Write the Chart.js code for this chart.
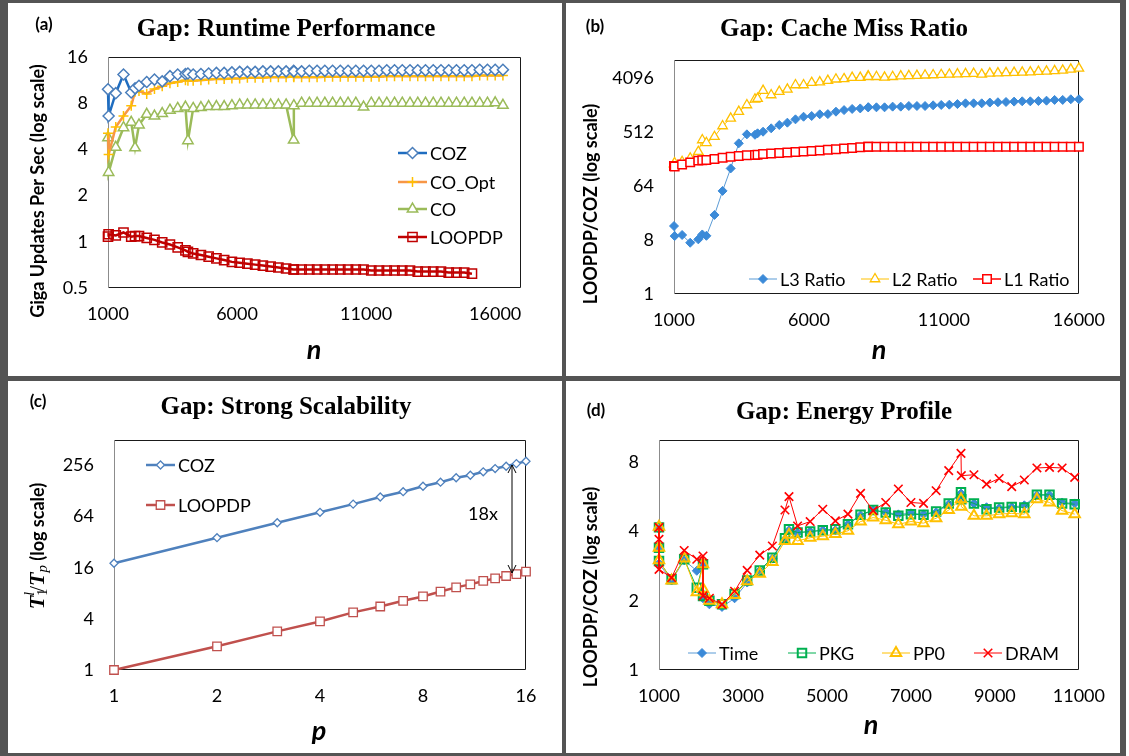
<!DOCTYPE html>
<html>
<head>
<meta charset="utf-8">
<script src="https://cdn.jsdelivr.net/npm/chart.js@4.4.1/dist/chart.umd.min.js"></script>
<style>
  html, body { margin: 0; padding: 0; background: #fff; }
  #sheet { position: relative; width: 1129px; height: 756px; }
  #bg { position: absolute; left: 0; top: 0; width: 1126px; height: 756px; background: #545454; }
  .panel { position: absolute; background: #fff; }
  .panel canvas { position: absolute; left: 0; top: 0; }
</style>
</head>
<body>
<div id="sheet">
  <div id="bg"></div>
  <div class="panel" style="left:8px;top:3px;width:554px;height:373px"><canvas id="chartA" width="554" height="373"></canvas></div>
  <div class="panel" style="left:566px;top:3px;width:554px;height:373px"><canvas id="chartB" width="554" height="373"></canvas></div>
  <div class="panel" style="left:8px;top:381px;width:554px;height:372px"><canvas id="chartC" width="554" height="372"></canvas></div>
  <div class="panel" style="left:566px;top:381px;width:554px;height:372px"><canvas id="chartD" width="554" height="372"></canvas></div>
</div>
<script>
// ---- (a) runtime performance ----
const nA = [1000, 1024, 1300, 1600, 1900, 2048, 2200, 2500, 2800, 3100, 3400, 3700, 4000, 4096,
  4300, 4600, 4900, 5200, 5500, 5800, 6100, 6400, 6700, 7000, 7300, 7600, 7900, 8192,
  8200, 8500, 8800, 9100, 9400, 9700, 10000, 10300, 10600, 10900, 11200, 11500, 11800, 12100,
  12400, 12700, 13000, 13300, 13600, 13900, 14200, 14500, 14800, 15100, 15400, 15700, 16000, 16300];
const cozA = [9.85, 6.6, 9.3, 12.3, 9.4, 10.0, 10.4, 11.0, 11.4, 11.1, 12.0, 12.3, 12.4, 12.5,
  12.3, 12.4, 12.5, 12.6, 12.6, 12.7, 12.8, 12.8, 12.8, 12.9, 12.9, 12.9, 12.9, 13.0,
  12.9, 12.9, 13.0, 13.0, 13.0, 13.0, 13.0, 13.0, 13.0, 13.0, 13.0, 13.0, 13.1, 13.1,
  13.1, 13.1, 13.1, 13.1, 13.1, 13.1, 13.1, 13.1, 13.1, 13.1, 13.2, 13.2, 13.2, 13.2];
const coOptA = [5.1, 3.7, 5.6, 6.6, 7.7, 9.5, 9.6, 9.2, 9.9, 10.3, 10.8, 11.0, 11.3, 11.2,
  11.2, 11.3, 11.4, 11.5, 11.5, 11.6, 11.6, 11.7, 11.7, 11.7, 11.8, 11.8, 11.8, 12.0,
  11.8, 11.8, 11.8, 11.8, 11.9, 11.9, 11.9, 11.9, 11.9, 11.9, 11.9, 11.9, 12.0, 12.0,
  12.0, 12.0, 12.0, 12.0, 12.0, 12.0, 12.0, 12.0, 12.0, 12.0, 12.1, 12.1, 12.1, 12.1];
const coA = [4.77, 2.83, 4.13, 5.54, 6.0, 4.1, 5.77, 6.77, 6.6, 6.85, 7.2, 7.4, 7.55, 4.56,
  7.4, 7.5, 7.6, 7.6, 7.6, 7.7, 7.8, 7.8, 7.8, 7.8, 7.8, 7.8, 7.8, 4.6,
  7.7, 8.0, 8.0, 8.0, 8.0, 8.0, 8.0, 8.0, 8.0, 7.55, 8.0, 8.0, 8.0, 8.0,
  8.0, 8.0, 8.0, 8.0, 8.0, 8.0, 8.0, 8.0, 8.0, 8.0, 8.0, 8.0, 8.05, 7.75];
const loopA = [1.08, 1.12, 1.10, 1.15, 1.08, 1.09, 1.09, 1.06, 1.03, 0.99, 0.96, 0.92, 0.88, 0.86,
  0.84, 0.82, 0.80, 0.78, 0.76, 0.74, 0.73, 0.72, 0.71, 0.70, 0.69, 0.68, 0.67, 0.66,
  0.66, 0.66, 0.66, 0.66, 0.66, 0.66, 0.66, 0.66, 0.66, 0.66, 0.65, 0.65, 0.65, 0.65,
  0.65, 0.65, 0.64, 0.64, 0.64, 0.64, 0.63, 0.63, 0.63, 0.62];
const ticksAX = [1000, 6000, 11000, 16000];
const ticksAY = [0.5, 1, 2, 4, 8, 16];

// ---- (b) cache miss ratio ----
const nB = [1000, 1024, 1300, 1600, 1900, 2048, 2200, 2500, 2800, 3100, 3400, 3700, 4000, 4096,
  4300, 4600, 4900, 5200, 5500, 5800, 6100, 6400, 6700, 7000, 7300, 7600, 7900, 8192,
  8200, 8500, 8800, 9100, 9400, 9700, 10000, 10300, 10600, 10900, 11200, 11500, 11800, 12100,
  12400, 12700, 13000, 13300, 13600, 13900, 14200, 14500, 14800, 15100, 15400, 15700, 16000];
const l3B = [13.7, 9.3, 9.7, 7.2, 8.2, 9.9, 9.4, 21, 53, 126, 331, 468, 460, 487,
  518, 590, 670, 733, 834, 922, 948, 1012, 1020, 1120, 1190, 1243, 1270, 1325,
  1325, 1325, 1325, 1360, 1360, 1393, 1393, 1393, 1430, 1450, 1466, 1500, 1545, 1545,
  1545, 1590, 1610, 1627, 1650, 1670, 1670, 1690, 1710, 1760, 1760, 1805, 1805];
const l2B = [149, 155, 163, 186, 240, 376, 338, 427, 645, 867, 1120, 1448, 1805, 1850,
  2520, 2130, 2420, 2650, 3130, 3130, 3420, 3500, 3700, 3900, 3950, 4150, 4150, 4400,
  4300, 4300, 4200, 4300, 4400, 4450, 4500, 4550, 4600, 4650, 4700, 4750, 4800, 4850,
  4700, 4900, 4950, 5000, 5050, 5100, 5150, 5250, 5300, 5400, 5500, 5700, 5950];
const l1B = [138, 135, 147, 159, 170, 172, 174, 181, 190, 198, 204, 209, 211, 213,
  219, 223, 228, 232, 237, 242, 247, 252, 258, 263, 270, 276, 284, 289,
  290, 291, 291, 291, 291, 291, 291, 291, 291, 291, 291, 291, 291, 291,
  291, 291, 291, 291, 291, 291, 291, 291, 291, 291, 291, 291, 291];
const ticksBX = [1000, 6000, 11000, 16000];
const ticksBY = [1, 8, 64, 512, 4096];

// ---- (c) strong scalability ----
const pC = [1, 2, 3, 4, 5, 6, 7, 8, 9, 10, 11, 12, 13, 14, 15, 16];
const cozC = [18.1, 36.2, 54.3, 72, 90, 109, 126, 146, 163, 184, 197, 216, 236, 251, 270, 288];
const loopC = [1.0, 1.9, 2.85, 3.73, 4.77, 5.6, 6.53, 7.35, 8.4, 9.4, 10.2, 11.2, 12.0, 12.8, 13.5, 14.4];
const ticksCX = [1, 2, 4, 8, 16];
const ticksCY = [1, 4, 16, 64, 256];

// ---- (d) energy profile ----
const nD = [1000, 1000, 1000, 1300, 1600, 1900, 2048, 2048, 2200, 2500, 2800, 3100, 3400, 3700, 4000, 4096,
  4300, 4600, 4900, 5200, 5500, 5800, 6100, 6400, 6700, 7000, 7300, 7600, 7900, 8192,
  8200, 8500, 8800, 9100, 9400, 9700, 10000, 10300, 10600, 10900];
const timeD = [4.1, 3.4, 2.9, 2.45, 3.0, 2.7, 2.85, 2.05, 1.93, 1.88, 2.05, 2.4, 2.7, 3.05, 3.7, 4.05,
  3.95, 4.0, 4.05, 4.05, 4.3, 4.7, 4.95, 4.85, 4.75, 4.8, 4.75, 4.85, 5.25, 5.85,
  5.5, 5.3, 5.1, 5.05, 5.1, 5.2, 5.75, 5.75, 5.35, 5.3];
const pkgD = [4.17, 3.4, 2.98, 2.48, 3.03, 2.28, 2.88, 2.1, 2.0, 1.93, 2.14, 2.45, 2.71, 3.08, 3.74, 4.09,
  3.96, 4.0, 4.05, 4.09, 4.3, 4.73, 4.96, 4.84, 4.68, 4.76, 4.73, 4.89, 5.3, 5.92,
  5.53, 5.3, 5.0, 5.09, 5.12, 5.09, 5.78, 5.78, 5.3, 5.26];
const pp0D = [4.2, 3.4, 3.0, 2.45, 3.05, 2.18, 2.88, 2.25, 2.0, 1.93, 2.12, 2.43, 2.62, 2.95, 3.64, 3.87,
  3.64, 3.76, 3.82, 3.9, 4.03, 4.42, 4.6, 4.48, 4.3, 4.42, 4.35, 4.57, 4.96, 5.53,
  5.13, 4.68, 4.68, 4.76, 4.8, 4.76, 5.53, 5.35, 4.93, 4.76];
const dramD = [4.17, 3.7, 2.74, 2.52, 3.31, 3.03, 3.13, 2.1, 2.05, 1.93, 2.2, 2.71, 3.16, 3.46, 4.96, 5.67,
  4.23, 4.42, 5.0, 4.45, 4.76, 5.86, 4.93, 5.35, 6.12, 5.35, 5.3, 6.02, 7.36, 8.75,
  7.0, 7.06, 6.43, 6.8, 6.27, 6.7, 7.56, 7.6, 7.56, 6.88];
const ticksDX = [1000, 3000, 5000, 7000, 9000, 11000];
const ticksDY = [1, 2, 4, 8];

const tickFont = { family: 'Lato', size: 18 };
const sans = 'Lato, "Open Sans", sans-serif';
const AXIS_W = 80;   // room for the y tick labels
const AXIS_H = 50;   // room for the x tick labels

function pts(xs, ys) {
  return ys.map((y, i) => ({ x: xs[i], y: y }));
}

// draw a marker the same way Chart.js shapes look, for the legends
function marker(ctx, s, x, y) {
  const r = s.r;
  ctx.save();
  ctx.lineWidth = s.bw;
  ctx.strokeStyle = s.border;
  ctx.fillStyle = s.fill;
  ctx.beginPath();
  if (s.style === 'rectRot') {
    ctx.moveTo(x - r, y); ctx.lineTo(x, y - r); ctx.lineTo(x + r, y); ctx.lineTo(x, y + r); ctx.closePath();
  } else if (s.style === 'rect') {
    const h = r * Math.SQRT1_2;
    ctx.rect(x - h, y - h, 2 * h, 2 * h);
  } else if (s.style === 'triangle') {
    for (let k = 0; k < 3; k++) {
      const a = k * 2 * Math.PI / 3;
      const px = x + Math.sin(a) * r, py = y - Math.cos(a) * r;
      if (k === 0) ctx.moveTo(px, py); else ctx.lineTo(px, py);
    }
    ctx.closePath();
  } else if (s.style === 'cross') {
    ctx.moveTo(x, y - r); ctx.lineTo(x, y + r); ctx.moveTo(x - r, y); ctx.lineTo(x + r, y);
  } else if (s.style === 'crossRot') {
    const o = r * Math.SQRT1_2;
    ctx.moveTo(x - o, y - o); ctx.lineTo(x + o, y + o); ctx.moveTo(x - o, y + o); ctx.lineTo(x + o, y - o);
  }
  if (s.style !== 'cross' && s.style !== 'crossRot') ctx.fill();
  ctx.stroke();
  ctx.restore();
}

function series(label, xs, ys, s, order) {
  return {
    label: label,
    data: pts(xs, ys),
    showLine: true,
    borderColor: s.line,
    borderWidth: s.lw,
    pointStyle: s.style,
    pointRadius: s.r,
    pointBorderColor: s.border,
    pointBackgroundColor: s.fill,
    pointBorderWidth: s.bw,
    clip: false,
    order: order,
    _s: s
  };
}

const decos = {};

const decoPlugin = {
  id: 'deco',
  beforeDatasetsDraw(chart) {
    const a = chart.chartArea;
    const ctx = chart.ctx;
    const l = Math.round(a.left) + 0.5, r = Math.round(a.right) - 0.5;
    const t = Math.round(a.top) + 0.5, b = Math.round(a.bottom) - 0.5;
    ctx.save();
    ctx.lineWidth = 1;
    ctx.strokeStyle = '#1a1a1a';
    ctx.beginPath();
    ctx.moveTo(l, t); ctx.lineTo(r, t); ctx.lineTo(r, b); ctx.lineTo(l, b);
    ctx.stroke();
    ctx.strokeStyle = '#8c8c8c';
    ctx.beginPath();
    ctx.moveTo(l, t); ctx.lineTo(l, b);
    ctx.stroke();
    ctx.restore();
  },
  afterDraw(chart) {
    const d = decos[chart.canvas.id];
    const ctx = chart.ctx;
    ctx.save();
    ctx.fillStyle = '#000';
    ctx.textBaseline = 'middle';
    ctx.textAlign = 'center';
    // title
    ctx.font = 'bold 25px "Liberation Serif"';
    ctx.fillText(d.title, d.tx, d.ty);
    // panel tag
    ctx.font = 'bold 17px ' + sans;
    ctx.fillText(d.tag, d.gx, d.gy);
    // x axis title
    ctx.font = 'bold italic 27px ' + sans;
    ctx.fillText(d.xt, d.xtx, d.xty);
    // y axis title
    ctx.save();
    ctx.translate(d.ytx, d.yty);
    ctx.rotate(-Math.PI / 2);
    if (typeof d.yt === 'string') {
      ctx.font = 'bold 18px ' + sans;
      ctx.fillText(d.yt, 0, 0);
    } else {
      let w = 0;
      d.yt.forEach(p => { ctx.font = p.font; p.w = p.adv === 0 ? 0 : ctx.measureText(p.t).width; w += p.w; });
      let x = -w / 2;
      ctx.textAlign = 'left';
      d.yt.forEach(p => {
        ctx.font = p.font;
        ctx.fillText(p.t, x + (p.dx || 0), p.dy || 0);
        x += p.w;
      });
    }
    ctx.restore();
    // legend
    ctx.textAlign = 'left';
    ctx.font = '18px ' + sans;
    d.legend.forEach((it, i) => {
      const ds = chart.data.datasets[i];
      const s = ds._s;
      ctx.save();
      ctx.strokeStyle = s.line;
      ctx.lineWidth = s.lw;
      ctx.beginPath();
      ctx.moveTo(it.x, it.y); ctx.lineTo(it.x + d.ll, it.y);
      ctx.stroke();
      ctx.restore();
      marker(ctx, s, it.x + d.ll / 2, it.y);
      ctx.fillStyle = '#000';
      ctx.fillText(ds.label, it.x + d.ll + 3, it.y + 1);
    });
    // annotation
    if (d.arrow) {
      const ar = d.arrow;
      ctx.strokeStyle = '#000';
      ctx.lineWidth = 1;
      ctx.beginPath();
      ctx.moveTo(ar.x, ar.y0); ctx.lineTo(ar.x, ar.y1);
      ctx.moveTo(ar.x - 4, ar.y0 + 8); ctx.lineTo(ar.x, ar.y0); ctx.lineTo(ar.x + 4, ar.y0 + 8);
      ctx.moveTo(ar.x - 4, ar.y1 - 8); ctx.lineTo(ar.x, ar.y1); ctx.lineTo(ar.x + 4, ar.y1 - 8);
      ctx.stroke();
      ctx.textAlign = 'center';
      ctx.font = '18px ' + sans;
      ctx.fillText(ar.text, ar.tx, ar.ty);
    }
    ctx.restore();
  }
};

function axis(type, min, max, ticks, padding, isX) {
  return {
    type: type,
    min: min,
    max: max,
    grid: { display: false, drawTicks: false },
    border: { display: false },
    afterFit: s => { if (isX) s.height = AXIS_H; else s.width = AXIS_W; },
    afterBuildTicks: s => { s.ticks = ticks.map(v => ({ value: v })); },
    ticks: {
      autoSkip: false,
      maxRotation: 0,
      padding: padding,
      color: '#000',
      font: tickFont,
      callback: v => String(v)
    }
  };
}

// plot: [left, top, right, bottom] of the plot area inside the panel canvas
function makeChart(id, datasets, plot, xs, ys) {
  const cv = document.getElementById(id);
  const pad = {
    left: plot[0] - AXIS_W,
    top: plot[1],
    right: cv.width - plot[2],
    bottom: cv.height - plot[3] - AXIS_H
  };
  return new Chart(cv, {
    type: 'scatter',
    data: { datasets: datasets },
    options: {
      responsive: false,
      animation: false,
      events: [],
      layout: { padding: pad },
      plugins: { legend: { display: false }, tooltip: { enabled: false } },
      scales: { x: xs, y: ys }
    },
    plugins: [decoPlugin]
  });
}

// styles
const stCozA = { line: '#1f6dc0', lw: 2.5, style: 'rectRot', r: 5.5, border: '#4a7ebb', fill: '#fff', bw: 1.5 };
const stOptA = { line: '#f79646', lw: 2.5, style: 'cross', r: 5, border: '#ffc000', fill: '#ffc000', bw: 1.5 };
const stCoA = { line: '#9bbb59', lw: 2.5, style: 'triangle', r: 6, border: '#9bbb59', fill: '#fff', bw: 1.5 };
const stLoopA = { line: '#c00000', lw: 2.5, style: 'rect', r: 6.5, border: '#c00000', fill: 'rgba(255,255,255,0)', bw: 1.5 };

decos.chartA = {
  title: 'Gap: Runtime Performance', tx: 278, ty: 27,
  tag: '(a)', gx: 36, gy: 22,
  xt: 'n', xtx: 306, xty: 347,
  yt: 'Giga Updates Per Sec (log scale)', ytx: 30, yty: 188,
  ll: 29,
  legend: [{ x: 390, y: 150 }, { x: 390, y: 179 }, { x: 390, y: 206 }, { x: 390, y: 234 }]
};
makeChart('chartA', [
  series('COZ', nA, cozA, stCozA, 1),
  series('CO_Opt', nA, coOptA, stOptA, 2),
  series('CO', nA, coA, stCoA, 3),
  series('LOOPDP', nA, loopA, stLoopA, 4)
], [100, 54, 513, 285],
  axis('linear', 1000, 17000, ticksAX, 15, true),
  axis('logarithmic', 0.5, 16, ticksAY, 20, false));

const stL3 = { line: '#5b9bd5', lw: 1, style: 'rectRot', r: 4.5, border: '#3b8ad8', fill: '#3b8ad8', bw: 1 };
const stL2 = { line: '#ffc000', lw: 1, style: 'triangle', r: 5.5, border: '#ffc000', fill: '#fff', bw: 1.3 };
const stL1 = { line: '#ff0000', lw: 1.5, style: 'rect', r: 6, border: '#ff0000', fill: '#fff', bw: 1.5 };

decos.chartB = {
  title: 'Gap: Cache Miss Ratio', tx: 278, ty: 27,
  tag: '(b)', gx: 29, gy: 24,
  xt: 'n', xtx: 313, xty: 347,
  yt: 'LOOPDP/COZ (log scale)', ytx: 25, yty: 201,
  ll: 28,
  legend: [{ x: 183, y: 276 }, { x: 295, y: 276 }, { x: 407, y: 276 }]
};
makeChart('chartB', [
  series('L3 Ratio', nB, l3B, stL3, 3),
  series('L2 Ratio', nB, l2B, stL2, 2),
  series('L1 Ratio', nB, l1B, stL1, 1)
], [108, 57, 519, 291],
  axis('linear', 1000, 16000, ticksBX, 15, true),
  axis('logarithmic', 1, 8192, ticksBY, 20, false));

const stCozC = { line: '#4f81bd', lw: 2.5, style: 'rectRot', r: 4, border: '#4f81bd', fill: '#fff', bw: 1.3 };
const stLoopC = { line: '#c0504d', lw: 2.5, style: 'rect', r: 6, border: '#c0504d', fill: '#fff', bw: 1.3 };

decos.chartC = {
  title: 'Gap: Strong Scalability', tx: 278, ty: 27,
  tag: '(c)', gx: 30, gy: 21,
  xt: 'p', xtx: 311, xty: 350,
  yt: [
    { t: 'T', font: 'bold italic 22px "Liberation Serif"' },
    { t: '1', font: '14px "Liberation Serif"', dy: 5, adv: 0 },
    { t: 'l', font: 'italic 14px "Liberation Serif"', dy: -8 },
    { t: '/', font: '21px "Liberation Serif"' },
    { t: 'T', font: 'bold italic 22px "Liberation Serif"' },
    { t: 'p', font: 'italic 15px "Liberation Serif"', dy: 5 },
    { t: ' (log scale)', font: 'bold 18px ' + sans }
  ],
  ytx: 30, yty: 165,
  ll: 29,
  legend: [{ x: 138, y: 84 }, { x: 138, y: 124 }],
  arrow: { x: 504, y0: 84, y1: 192, text: '18x', tx: 475, ty: 133 }
};
makeChart('chartC', [
  series('COZ', pC, cozC, stCozC, 1),
  series('LOOPDP', pC, loopC, stLoopC, 2)
], [106, 59, 518, 289],
  axis('logarithmic', 1, 16, ticksCX, 15, true),
  axis('logarithmic', 1, 512, ticksCY, 20, false));

const stTime = { line: '#5b9bd5', lw: 1, style: 'rectRot', r: 4.5, border: '#3b8ad8', fill: '#3b8ad8', bw: 1 };
const stPkg = { line: '#00b050', lw: 1, style: 'rect', r: 6, border: '#00b050', fill: 'rgba(255,255,255,0)', bw: 2 };
const stPp0 = { line: '#ffc000', lw: 1, style: 'triangle', r: 6, border: '#ffc000', fill: 'rgba(255,255,255,0)', bw: 2 };
const stDram = { line: '#ff0000', lw: 1, style: 'crossRot', r: 6, border: '#ff0000', fill: '#ff0000', bw: 1.6 };

decos.chartD = {
  title: 'Gap: Energy Profile', tx: 278, ty: 32,
  tag: '(d)', gx: 30, gy: 30,
  xt: 'n', xtx: 305, xty: 344,
  yt: 'LOOPDP/COZ (log scale)', ytx: 25, yty: 206,
  ll: 28,
  legend: [{ x: 122, y: 272 }, { x: 222, y: 272 }, { x: 316, y: 272 }, { x: 408, y: 272 }]
};
makeChart('chartD', [
  series('Time', nD, timeD, stTime, 4),
  series('PKG', nD, pkgD, stPkg, 3),
  series('PP0', nD, pp0D, stPp0, 2),
  series('DRAM', nD, dramD, stDram, 1)
], [93, 59, 520, 289],
  axis('linear', 1000, 11000, ticksDX, 15, true),
  axis('logarithmic', 1, 10, ticksDY, 20, false));
</script>
</body>
</html>
